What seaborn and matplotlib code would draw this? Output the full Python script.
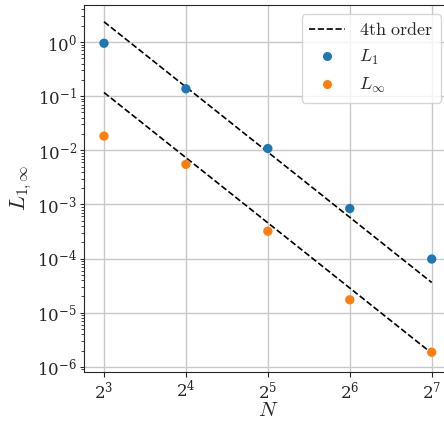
import numpy as np
import pandas as pd
import matplotlib
matplotlib.use("Agg")
import matplotlib.pyplot as plt
import seaborn as sns
from matplotlib.lines import Line2D

# ---- data ----
N = [8, 16, 32, 64, 128]
L1 = [0.95, 0.137, 0.0108, 8.4e-4, 9.8e-5]
Linf = [0.0183, 5.5e-3, 3.2e-4, 1.73e-5, 1.86e-6]
order = 4
ref_upper_at_N0 = 2.37   # value of upper 4th-order guide at N=8
ref_lower_at_N0 = 0.117  # value of lower 4th-order guide at N=8
x_ticks = [8, 16, 32, 64, 128]
y_ticks = [1e-6, 1e-5, 1e-4, 1e-3, 1e-2, 1e-1, 1e0]

sns.set_style("ticks")
plt.rcParams.update({
    "mathtext.fontset": "cm",
    "font.family": ["DejaVu Serif"],
    "axes.edgecolor": "#262626",
    "grid.color": "#c8c8c8",
    "grid.linewidth": 1.0,
    "xtick.major.size": 3.5,
    "ytick.major.size": 3.0,
    "ytick.minor.size": 2.0,
    "xtick.major.pad": 2.5,
    "ytick.major.pad": 2.0,
    "xtick.color": "#262626",
    "ytick.color": "#262626",
})

fig = plt.figure(figsize=(4.44, 4.22), dpi=100)
ax = fig.add_axes([84 / 444, 1 - 371.7 / 422, (451.7 - 84) / 444, (371.7 - 4.7) / 422])

Narr = np.array(N, dtype=float)
ref_up = ref_upper_at_N0 * (Narr / N[0]) ** (-order)
ref_lo = ref_lower_at_N0 * (Narr / N[0]) ** (-order)

sns.lineplot(x=Narr, y=ref_up, ax=ax, color="black", linestyle="--", linewidth=1.2)
sns.lineplot(x=Narr, y=ref_lo, ax=ax, color="black", linestyle="--", linewidth=1.2)

df = pd.DataFrame({
    "N": N + N,
    "err": L1 + Linf,
    "norm": [r"$L_1$"] * len(N) + [r"$L_\infty$"] * len(N),
})
pal = {r"$L_1$": "#1f77b4", r"$L_\infty$": "#ff7f0e"}
sns.scatterplot(data=df, x="N", y="err", hue="norm", palette=pal, ax=ax,
                s=45, linewidth=0, legend=False, zorder=3)

ax.set_xscale("log", base=2)
ax.set_yscale("log")
ax.set_xlim(2 ** (3 - 0.244), 2 ** (7 + 0.244))
ax.set_ylim(10 ** -6.09, 10 ** 0.69)
ax.set_xticks(x_ticks)
ax.set_yticks(y_ticks)
ax.xaxis.set_minor_locator(matplotlib.ticker.NullLocator())
ax.grid(True, which="major")
ax.set_axisbelow(True)
ax.tick_params(labelsize=12)
ax.set_xlabel(r"$N$", fontsize=15, labelpad=-0.5)
ax.set_ylabel(r"$L_{1,\infty}$", fontsize=16, labelpad=2)

handles = [
    Line2D([], [], color="black", linestyle="--", linewidth=1.2),
    Line2D([], [], marker="o", linestyle="", color=pal[r"$L_1$"], markersize=6.5, markeredgewidth=0),
    Line2D([], [], marker="o", linestyle="", color=pal[r"$L_\infty$"], markersize=6.5, markeredgewidth=0),
]
labels = [r"$\mathrm{4th\ order}$", r"$L_1$", r"$L_\infty$"]
leg = ax.legend(handles, labels, loc="upper right",
                bbox_to_anchor=(440.7 / 444, 1 - 14 / 422), bbox_transform=fig.transFigure,
                borderaxespad=0, fontsize=13, frameon=True, fancybox=True, framealpha=0.8)
leg.get_frame().set_edgecolor("#cccccc")

fig.savefig("out.png", dpi=100)
